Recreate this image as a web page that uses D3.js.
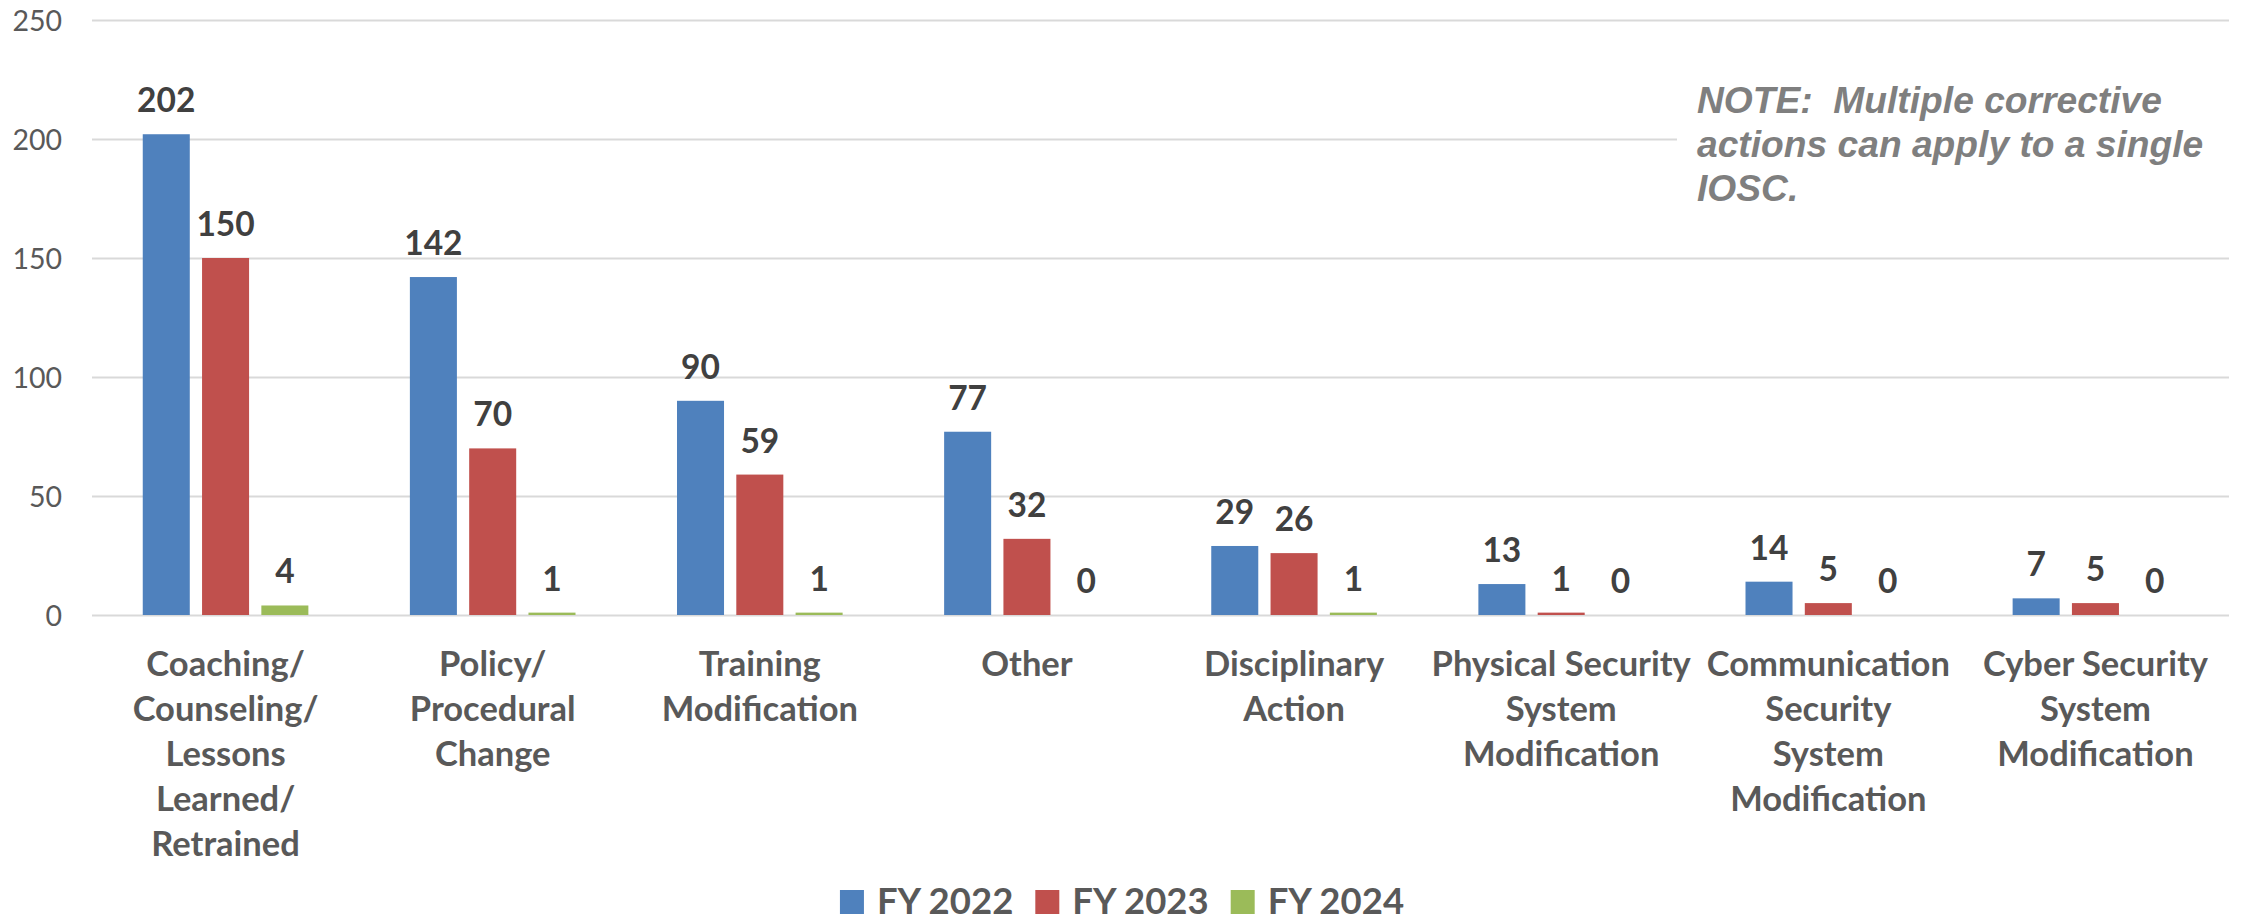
<!DOCTYPE html>
<html>
<head>
<meta charset="utf-8">
<script src="https://cdn.jsdelivr.net/npm/d3@7"></script>
<style>
  html, body { margin: 0; padding: 0; background: #ffffff; }
  svg { display: block; }
</style>
</head>
<body>
<svg id="chart" width="2244" height="921"></svg>
<script>
// Corrective actions by category and fiscal year
const categories = [
  "Coaching/\nCounseling/\nLessons\nLearned/\nRetrained",
  "Policy/\nProcedural\nChange",
  "Training\nModification",
  "Other",
  "Disciplinary\nAction",
  "Physical Security\nSystem\nModification",
  "Communication\nSecurity\nSystem\nModification",
  "Cyber Security\nSystem\nModification"
];
const seriesNames = ["FY 2022", "FY 2023", "FY 2024"];
const fy2022 = [202, 142, 90, 77, 29, 13, 14, 7];
const fy2023 = [150, 70, 59, 32, 26, 1, 5, 5];
const fy2024 = [4, 1, 1, 0, 1, 0, 0, 0];
const yTicks = [0, 50, 100, 150, 200, 250];
const noteLines = [
  "NOTE:  Multiple corrective",
  "actions can apply to a single",
  "IOSC."
];

const seriesValues = [fy2022, fy2023, fy2024];
const colors = ["#4F81BD", "#C0504D", "#9BBB59"];

const W = 2244, H = 921;
const plot = { left: 92, right: 2229, top: 20, bottom: 615 };

const svg = d3.select("#chart");

const x = d3.scaleBand()
  .domain(d3.range(categories.length))
  .range([plot.left, plot.right])
  .paddingInner(0.38)
  .paddingOuter(0.19);

const xs = d3.scaleBand()
  .domain(d3.range(seriesNames.length))
  .range([0, x.bandwidth()])
  .paddingInner(0.207)
  .paddingOuter(0);

const y = d3.scaleLinear().domain([0, 250]).range([plot.bottom, plot.top]);

// Horizontal gridlines and y tick labels
const yAxis = d3.axisLeft(y)
  .tickValues(yTicks)
  .tickSize(-(plot.right - plot.left))
  .tickPadding(30)
  .tickFormat(d3.format("d"));

const gy = svg.append("g")
  .attr("transform", `translate(${plot.left},0)`)
  .call(yAxis);
gy.select(".domain").remove();
gy.selectAll(".tick line")
  .attr("stroke", "#d9d9d9")
  .attr("stroke-width", 2);
gy.selectAll(".tick text")
  .attr("fill", "#595959")
  .attr("font-family", "Lato, sans-serif")
  .attr("font-size", 28.5)
  .attr("dy", "0.36em");

// Note box sits over the upper gridline on the right
const noteG = svg.append("g");
noteG.append("rect")
  .attr("x", 1677).attr("y", 70)
  .attr("width", plot.right - 1677 + 2).attr("height", 150)
  .attr("fill", "#ffffff");
noteG.selectAll("text")
  .data(noteLines)
  .join("text")
  .attr("x", 1697)
  .attr("y", (d, i) => 113 + i * 44)
  .attr("fill", "#7f7f7f")
  .attr("font-family", "'Liberation Sans', Arial, sans-serif")
  .attr("font-weight", "bold")
  .attr("font-style", "italic")
  .attr("font-size", 37.2)
  .attr("xml:space", "preserve")
  .style("white-space", "pre")
  .text(d => d);

// Bars
const rows = [];
categories.forEach((c, ci) => {
  seriesValues.forEach((vals, si) => {
    rows.push({ ci, si, v: vals[ci] });
  });
});

const barsG = svg.append("g");
barsG.selectAll("rect")
  .data(rows)
  .join("rect")
  .attr("x", d => x(d.ci) + xs(d.si))
  .attr("width", xs.bandwidth())
  .attr("y", d => y(d.v))
  .attr("height", d => y(0) - y(d.v))
  .attr("fill", d => colors[d.si]);

// Value labels
barsG.selectAll("text")
  .data(rows)
  .join("text")
  .attr("x", d => x(d.ci) + xs(d.si) + xs.bandwidth() / 2)
  .attr("y", d => y(d.v) - 22)
  .attr("text-anchor", "middle")
  .attr("fill", "#404040")
  .attr("font-family", "Lato, sans-serif")
  .attr("font-weight", "bold")
  .attr("font-size", 33.5)
  .text(d => d.v);

// Category labels, one tspan per line
const catG = svg.append("g");
catG.selectAll("text")
  .data(categories)
  .join("text")
  .attr("text-anchor", "middle")
  .attr("fill", "#595959")
  .attr("font-family", "Lato, sans-serif")
  .attr("font-weight", "bold")
  .attr("font-size", 34.5)
  .each(function (d, i) {
    const cx = x(i) + x.bandwidth() / 2;
    d3.select(this).selectAll("tspan")
      .data(d.split("\n"))
      .join("tspan")
      .attr("x", cx)
      .attr("y", (t, j) => 676 + j * 45)
      .text(t => t);
  });

// Legend, centred on the page
const legend = svg.append("g");
const items = legend.selectAll("g")
  .data(seriesNames)
  .join("g");
items.append("rect")
  .attr("width", 24).attr("height", 24)
  .attr("y", 890)
  .attr("fill", (d, i) => colors[i]);
items.append("text")
  .attr("x", 37)
  .attr("y", 914)
  .attr("fill", "#595959")
  .attr("font-family", "Lato, sans-serif")
  .attr("font-weight", "bold")
  .attr("font-size", 36.5)
  .text(d => d);

let offset = 0;
const itemGap = 22;
const widths = [];
items.each(function () {
  const w = 37 + d3.select(this).select("text").node().getComputedTextLength();
  widths.push(w);
});
const total = d3.sum(widths) + itemGap * (widths.length - 1);
const startX = W / 2 - total / 2;
items.attr("transform", (d, i) => {
  const tx = startX + offset;
  offset += widths[i] + itemGap;
  return `translate(${tx},0)`;
});
</script>
</body>
</html>
